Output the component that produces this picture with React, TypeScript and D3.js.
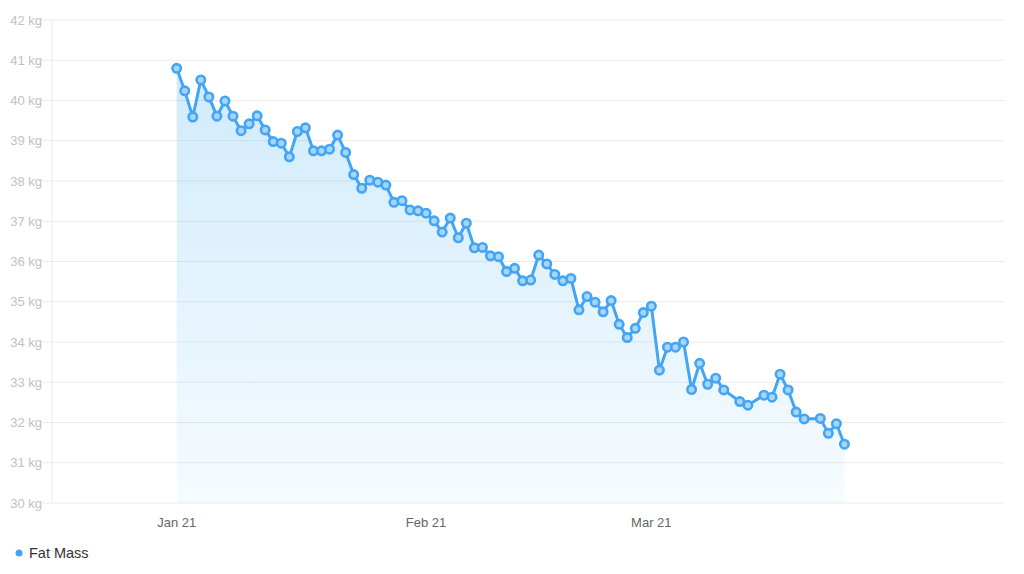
import React from "react";
import * as d3 from "d3";

// Data: day offsets from Jan 1 2021 and fat mass values (kg)
const dayOffsets: number[] = [
  0, 1, 2, 3, 4, 5, 6, 7, 8, 9, 10, 11, 12, 13, 14, 15, 16, 17, 18, 19, 20,
  21, 22, 23, 24, 25, 26, 27, 28, 29, 30, 31, 32, 33, 34, 35, 36, 37, 38, 39,
  40, 41, 42, 43, 44, 45, 46, 47, 48, 49, 50, 51, 52, 53, 54, 55, 56, 57, 58,
  59, 60, 61, 62, 63, 64, 65, 66, 67, 68, 70, 71, 73, 74, 75, 76, 77, 78, 80,
  81, 82, 83,
];
const fatMass: number[] = [
  40.8, 40.24, 39.59, 40.51, 40.09, 39.61, 39.99, 39.61, 39.25, 39.42, 39.62,
  39.27, 38.98, 38.94, 38.6, 39.23, 39.32, 38.75, 38.75, 38.79, 39.14, 38.71,
  38.16, 37.82, 38.02, 37.97, 37.9, 37.47, 37.51, 37.28, 37.26, 37.2, 37.01,
  36.73, 37.08, 36.59, 36.95, 36.34, 36.35, 36.14, 36.12, 35.75, 35.83, 35.52,
  35.54, 36.16, 35.94, 35.68, 35.52, 35.58, 34.8, 35.13, 34.99, 34.75, 35.03,
  34.44, 34.11, 34.34, 34.73, 34.89, 33.3, 33.87, 33.87, 34.0, 32.82, 33.47,
  32.95, 33.1, 32.81, 32.52, 32.43, 32.68, 32.63, 33.2, 32.81, 32.26, 32.09,
  32.1, 31.73, 31.97, 31.46,
];
const yTicks: number[] = [30, 31, 32, 33, 34, 35, 36, 37, 38, 39, 40, 41, 42];
const xTickDates: Date[] = [
  new Date(2021, 0, 1),
  new Date(2021, 1, 1),
  new Date(2021, 2, 1),
];
const xTickLabels: string[] = ["Jan 21", "Feb 21", "Mar 21"];
const seriesName = "Fat Mass";

const startDate = new Date(2021, 0, 1);
const points = dayOffsets.map((d, i) => ({
  date: d3.timeDay.offset(startDate, d),
  value: fatMass[i],
}));

export default function App() {
  const width = 1024;
  const height = 574;
  const left = 52;
  const right = 1004;
  const top = 20;
  const bottom = 503;

  const x = d3
    .scaleTime()
    .domain([new Date(2020, 11, 16, 12), new Date(2021, 3, 13, 20)])
    .range([left, right]);
  const y = d3.scaleLinear().domain([30, 42]).range([bottom, top]);

  const line = d3
    .line<{ date: Date; value: number }>()
    .x((d) => x(d.date))
    .y((d) => y(d.value));
  const area = d3
    .area<{ date: Date; value: number }>()
    .x((d) => x(d.date))
    .y0(y(30))
    .y1((d) => y(d.value));

  const blue = "#42a5f5";
  const font = "'Liberation Sans', Arial, Helvetica, sans-serif";

  return (
    <svg
      width={width}
      height={height}
      style={{ position: "absolute", left: 0, top: 0, background: "#fff" }}
    >
      <defs>
        <linearGradient
          id="areaGrad"
          gradientUnits="userSpaceOnUse"
          x1={0}
          y1={y(41)}
          x2={0}
          y2={y(30)}
        >
          <stop offset="0%" stopColor="#4fb3f2" stopOpacity={0.27} />
          <stop offset="100%" stopColor="#4fb3f2" stopOpacity={0.05} />
        </linearGradient>
      </defs>
      {/* grid lines and y labels */}
      {yTicks.map((t) => (
        <g key={t}>
          <line
            x1={left - 10}
            x2={right}
            y1={y(t)}
            y2={y(t)}
            stroke="#ebebeb"
            strokeWidth={1}
          />
          <text
            x={left - 10}
            y={y(t)}
            dy="0.35em"
            textAnchor="end"
            fontFamily={font}
            fontSize={13}
            fill="#c2c2c2"
          >
            {t} kg
          </text>
        </g>
      ))}
      <line
        x1={left}
        x2={left}
        y1={top}
        y2={bottom}
        stroke="#ebebeb"
        strokeWidth={1}
      />
      {/* x labels */}
      {xTickDates.map((d, i) => (
        <text
          key={i}
          x={x(d)}
          y={527}
          textAnchor="middle"
          fontFamily={font}
          fontSize={13}
          fill="#666"
        >
          {xTickLabels[i]}
        </text>
      ))}
      {/* area */}
      <path d={area(points) || ""} fill="url(#areaGrad)" />
      {/* line */}
      <path
        d={line(points) || ""}
        fill="none"
        stroke={blue}
        strokeWidth={3}
        strokeLinejoin="round"
      />
      {points.map((p, i) => (
        <circle
          key={i}
          cx={x(p.date)}
          cy={y(p.value)}
          r={4.2}
          fill="#a9d6f8"
          stroke={blue}
          strokeWidth={2.6}
        />
      ))}
      {/* legend */}
      <circle cx={19} cy={553} r={3.5} fill={blue} />
      <text
        x={29}
        y={553}
        dy="0.35em"
        fontFamily={font}
        fontSize={14.5}
        fill="#333"
      >
        {seriesName}
      </text>
    </svg>
  );
}
